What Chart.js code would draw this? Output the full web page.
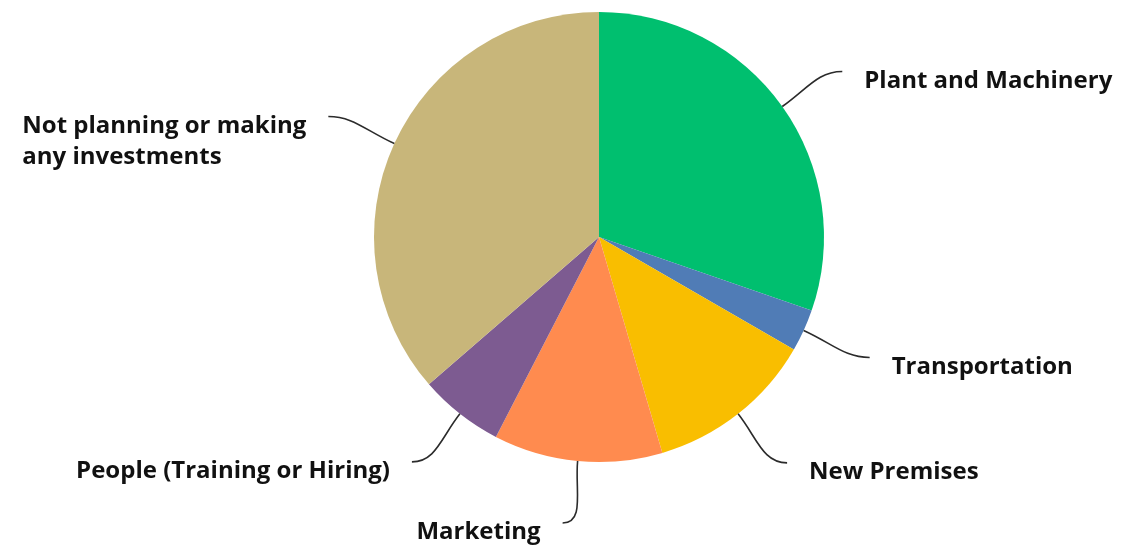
<!DOCTYPE html>
<html lang="en">
<head>
    <meta charset="UTF-8">
    <title>Planned Investments</title>
    <script src="https://cdn.jsdelivr.net/npm/chart.js"></script>
    <style>
        html, body {
            margin: 0;
            padding: 0;
            background: #ffffff;
        }
        #wrap {
            width: 1122px;
            height: 547px;
        }
    </style>
</head>
<body>

<div id="wrap"><canvas id="investChart"></canvas></div>

<script>
    // data, clockwise from 12 o'clock
    const categories = [
        ['Plant and Machinery'],
        ['Transportation'],
        ['New Premises'],
        ['Marketing'],
        ['People (Training or Hiring)'],
        ['Not planning or making', 'any investments']
    ];
    const shares = [30, 3, 12, 12, 6, 36];
    const sliceColors = ['#00BF6F', '#507CB6', '#F9BE00', '#FF8B4F', '#7D5B91', '#C8B67A'];

    // leader line end, offset from the slice's outer edge midpoint
    const leaderOffsets = [[60, -35], [66, 27], [49, 49], [-15, 62], [-48, 48], [-66, -27]];

    const labelFont = '700 24px "Open Sans", sans-serif';

    const leaderLabels = {
        id: 'leaderLabels',
        afterDraw(chart) {
            const ctx = chart.ctx;
            const arcs = chart.getDatasetMeta(0).data;
            ctx.save();
            ctx.font = labelFont;
            arcs.forEach((arc, i) => {
                const p = arc.getProps(['x', 'y', 'startAngle', 'endAngle', 'outerRadius'], true);
                const mid = (p.startAngle + p.endAngle) / 2;
                const dx = Math.cos(mid), dy = Math.sin(mid);
                const x0 = p.x + dx * p.outerRadius;
                const y0 = p.y + dy * p.outerRadius;
                const x3 = x0 + leaderOffsets[i][0];
                const y3 = y0 + leaderOffsets[i][1];
                const side = leaderOffsets[i][0] >= 0 ? 1 : -1;
                const len = Math.hypot(x3 - x0, y3 - y0);

                ctx.beginPath();
                ctx.moveTo(x0, y0);
                ctx.bezierCurveTo(x0 + dx * len * 0.45, y0 + dy * len * 0.45,
                                  x3 - side * len * 0.35, y3, x3, y3);
                ctx.strokeStyle = '#2b2b2b';
                ctx.lineWidth = 1.6;
                ctx.stroke();

                const lines = categories[i];
                const gap = 22;
                const w = Math.max(...lines.map(t => ctx.measureText(t).width));
                const tx = side > 0 ? x3 + gap : x3 - gap - w;
                ctx.fillStyle = '#111111';
                ctx.textAlign = 'left';
                ctx.textBaseline = 'alphabetic';
                lines.forEach((t, k) => {
                    ctx.fillText(t, tx, y3 + 16.5 + k * 31);
                });
            });
            ctx.restore();
        }
    };

    const ctx = document.getElementById('investChart').getContext('2d');
    const investChart = new Chart(ctx, {
        type: 'pie',
        data: {
            labels: categories.map(c => c.join(' ')),
            datasets: [{
                data: shares,
                backgroundColor: sliceColors,
                borderWidth: 0
            }]
        },
        options: {
            responsive: true,
            maintainAspectRatio: false,
            animation: false,
            layout: {
                padding: { left: 200, right: 124, top: 12, bottom: 85 }
            },
            plugins: {
                legend: { display: false },
                tooltip: { enabled: false }
            }
        },
        plugins: [leaderLabels]
    });
</script>

</body>
</html>
